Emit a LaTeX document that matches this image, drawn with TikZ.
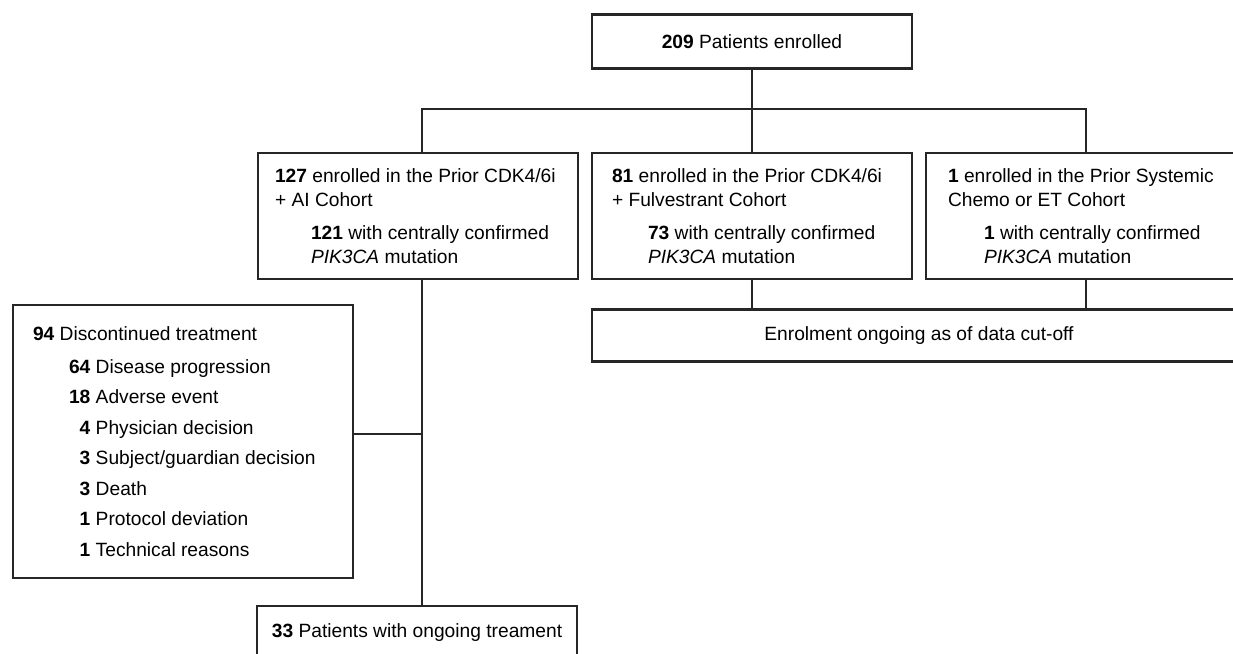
\documentclass[tikz,border=0pt]{standalone}
\usepackage{fontspec}
\setmainfont{Liberation Sans}
\usetikzlibrary{positioning}
\newcommand{\reason}[2]{\hspace*{18pt}\makebox[10.7pt][r]{\textbf{#1}} #2}
\begin{document}
\begin{tikzpicture}[x=0.5pt,y=-0.5pt,
    box/.style={draw=black!85,line width=1.1pt,fill=white,align=flush left,
      font=\fontsize{9.6}{12}\selectfont,inner sep=0pt,minimum width=160pt},
    link/.style={draw=black!85,line width=1pt}]
    \useasboundingbox (0,0) rectangle (1233,654);
    \clip (0,0) rectangle (1233,654);
    % Boxes
    \node[box,align=center,minimum height=27pt] (enrolled) at (752,41.5) {\textbf{209} Patients enrolled};
    \node[box,text width=143pt,inner xsep=8.5pt,minimum height=63pt] (ai) at (418,216) {\textbf{127} enrolled in the Prior CDK4/6i\\
        + AI Cohort\\[4.5pt]
        \hspace*{18pt}\textbf{121} with centrally confirmed\\
        \hspace*{18pt}\textit{PIK3CA} mutation};
    \node[box,text width=140pt,inner xsep=10pt,minimum height=63pt] (fulv) at (752,216) {\textbf{81} enrolled in the Prior CDK4/6i\\
        + Fulvestrant Cohort\\[4.5pt]
        \hspace*{18pt}\textbf{73} with centrally confirmed\\
        \hspace*{18pt}\textit{PIK3CA} mutation};
    \node[box,text width=138pt,inner xsep=11pt,minimum height=63pt] (chemo) at (1086,216) {\textbf{1} enrolled in the Prior Systemic\\
        Chemo or ET Cohort\\[4.5pt]
        \hspace*{18pt}\textbf{1} with centrally confirmed\\
        \hspace*{18pt}\textit{PIK3CA} mutation};
    \node[box,align=center,minimum width=327pt,minimum height=26pt] (cutoff) at (919,335.5) {Enrolment ongoing as of data cut-off};
    \node[box,text width=150pt,inner xsep=10pt,minimum height=136.5pt] (discont) at (183,441.5) {\textbf{94} Discontinued treatment\\[4.5pt]
        \reason{64}{Disease progression}\\[3.25pt]
        \reason{18}{Adverse event}\\[3.25pt]
        \reason{4}{Physician decision}\\[3.25pt]
        \reason{3}{Subject/guardian decision}\\[3.25pt]
        \reason{3}{Death}\\[3.25pt]
        \reason{1}{Protocol deviation}\\[3.25pt]
        \reason{1}{Technical reasons}};
    \node[box,align=center,minimum height=27pt] (ongoing) at (417,633) {\textbf{33} Patients with ongoing treament};
    % Linee
    \coordinate (split) at (752,108.5);
    \coordinate (branch) at (422,434);
    \draw[link] (enrolled.south) -- (fulv.north);
    \draw[link] ([xshift=2pt]ai.north) |- (split) -| (chemo.north);
    \draw[link] ([xshift=2pt]ai.south) -- ([xshift=2pt]ai.south |- ongoing.north);
    \draw[link] (discont.east |- branch) -- (branch);
    \draw[link] (fulv.south) -- (fulv.south |- cutoff.north);
    \draw[link] (chemo.south) -- (chemo.south |- cutoff.north);
\end{tikzpicture}
\end{document}
